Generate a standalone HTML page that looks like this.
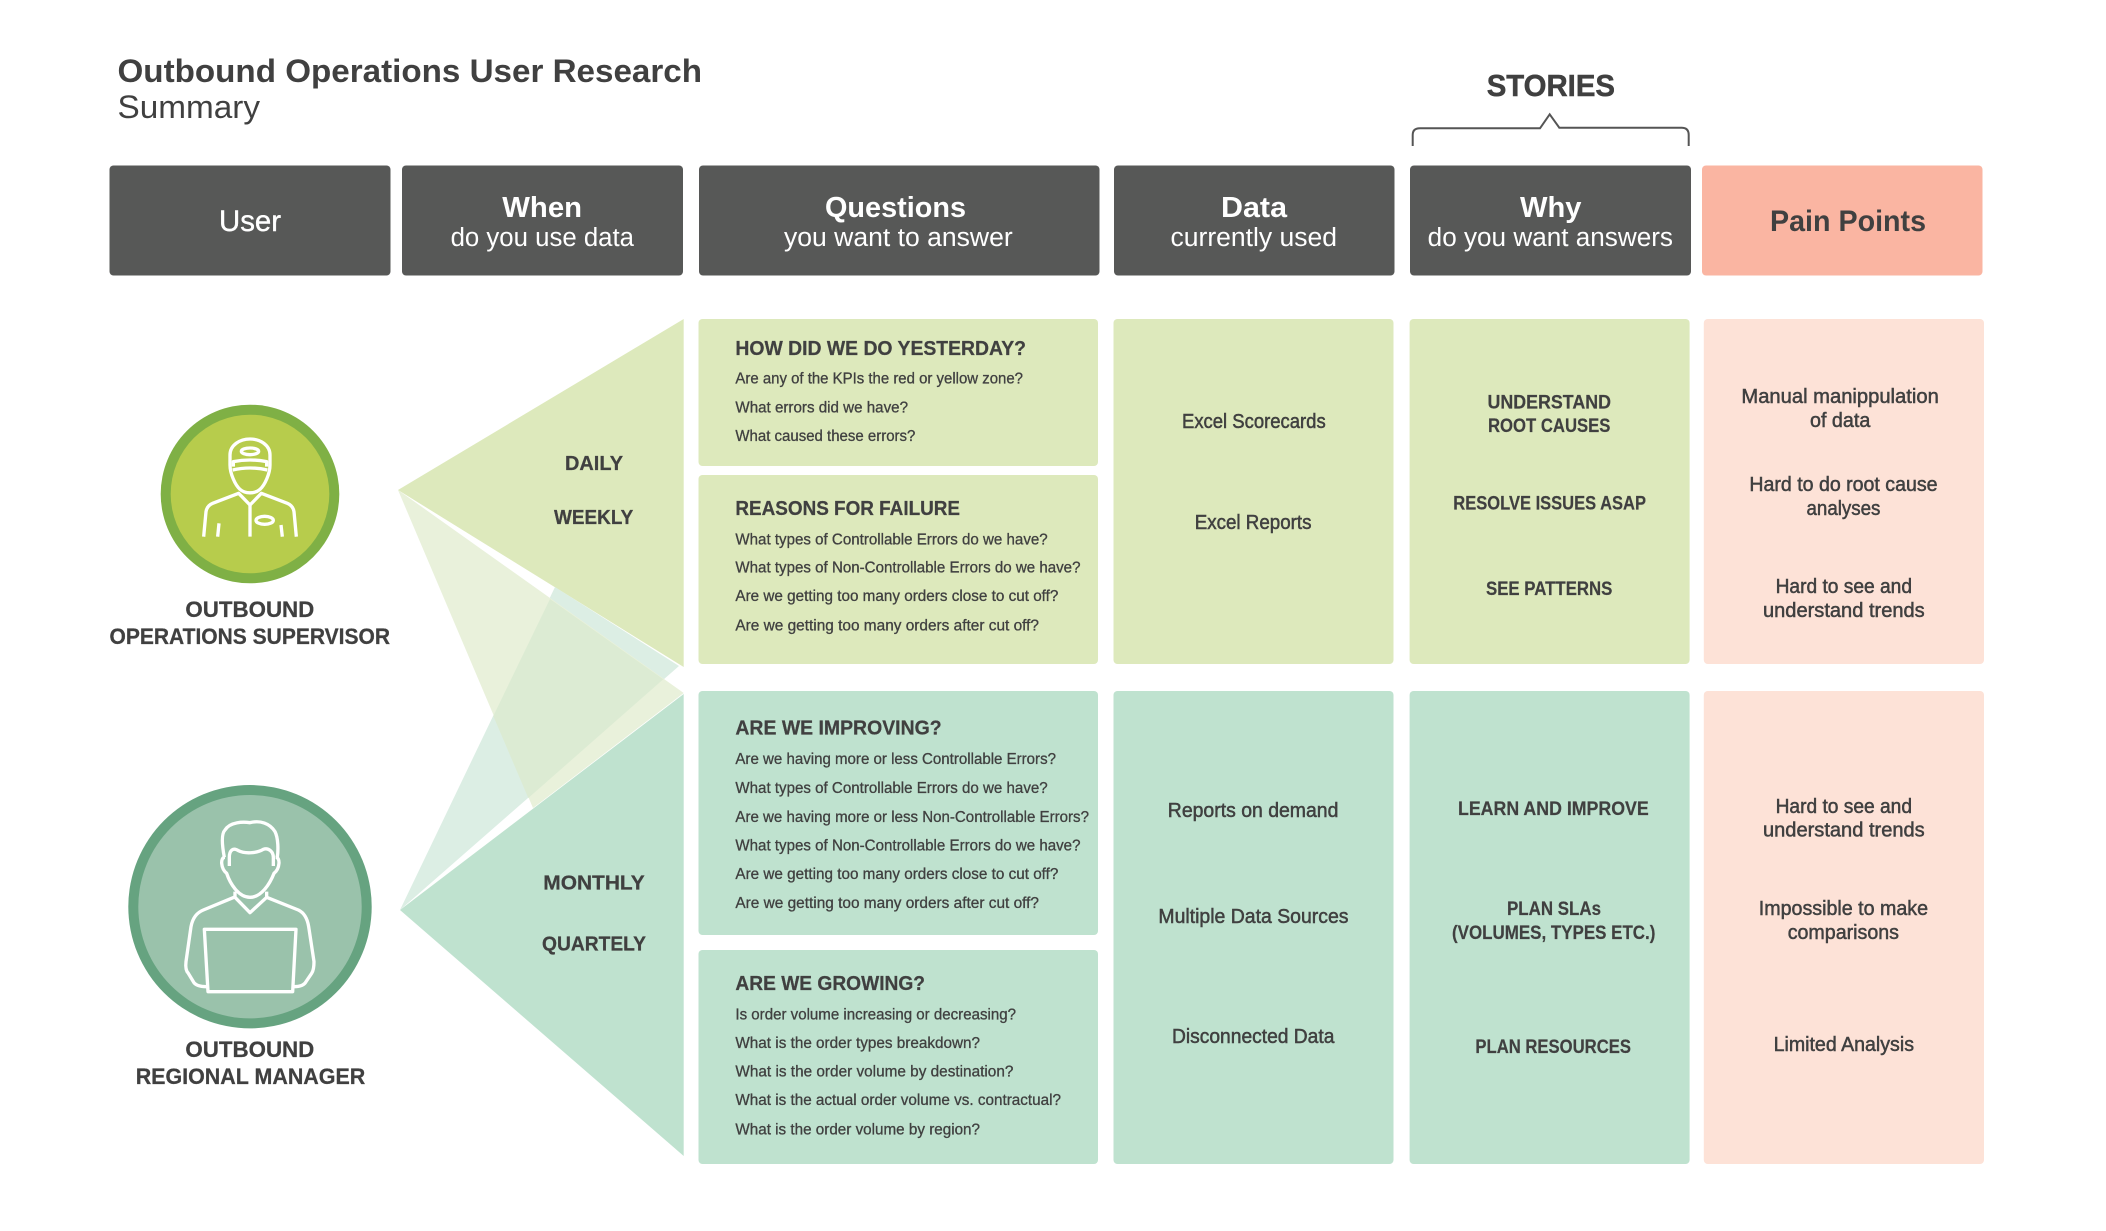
<!DOCTYPE html>
<html>
<head>
<meta charset="utf-8">
<style>
html,body{margin:0;padding:0;background:#fff;}
svg{display:block;}
text{font-family:"Liberation Sans",sans-serif;fill:#404040;}
.b{font-weight:700;}
.s{font-size:15.5px;stroke:#404040;stroke-width:.3px;}
.h{font-size:20px;font-weight:700;stroke:#404040;stroke-width:.25px;}
.m{font-size:20px;stroke:#404040;stroke-width:.5px;}
.u{font-size:19px;font-weight:700;stroke:#404040;stroke-width:.2px;}
.w{fill:#fff;}
.hb{font-size:29px;font-weight:700;fill:#fff;}
.hr{font-size:25.5px;fill:#fff;}
.ic{fill:none;stroke:#fff;stroke-width:10;stroke-linejoin:round;}
</style>
</head>
<body>
<svg width="2106" height="1231" viewBox="0 0 2106 1231" xmlns="http://www.w3.org/2000/svg">
<rect width="2106" height="1231" fill="#fff"/>

<!-- Title -->
<text class="b" x="117.5" y="82" font-size="32" textLength="584.5" lengthAdjust="spacingAndGlyphs">Outbound Operations User Research</text>
<text x="117.5" y="118" font-size="32" textLength="142.5" lengthAdjust="spacingAndGlyphs">Summary</text>

<!-- Stories -->
<text class="b" x="1486.7" y="96" font-size="31" textLength="128.3" lengthAdjust="spacingAndGlyphs" stroke="#404040" stroke-width=".5">STORIES</text>
<path d="M1412.7 146V135Q1412.7 128.3 1420 128.3H1540L1549.7 114.3L1559.3 127.7H1681.7Q1688.7 127.7 1688.7 135V146" fill="none" stroke="#555" stroke-width="2"/>

<!-- Header boxes -->
<rect x="109.5" y="165.5" width="281" height="110" rx="4" fill="#575857"/>
<rect x="402" y="165.5" width="281" height="110" rx="4" fill="#575857"/>
<rect x="699" y="165.5" width="400.5" height="110" rx="4" fill="#575857"/>
<rect x="1114" y="165.5" width="280.5" height="110" rx="4" fill="#575857"/>
<rect x="1410" y="165.5" width="281" height="110" rx="4" fill="#575857"/>
<rect x="1702" y="165.5" width="280.5" height="110" rx="4" fill="#fab5a2"/>

<text class="w" x="219" y="231" font-size="30" textLength="62" lengthAdjust="spacingAndGlyphs" stroke="#fff" stroke-width=".4">User</text>
<text class="hb" x="502.3" y="217" textLength="79.7" lengthAdjust="spacingAndGlyphs">When</text>
<text class="hr" x="450.6" y="246" textLength="183.4" lengthAdjust="spacingAndGlyphs">do you use data</text>
<text class="hb" x="825" y="217" textLength="141" lengthAdjust="spacingAndGlyphs">Questions</text>
<text class="hr" x="784" y="246" textLength="228.7" lengthAdjust="spacingAndGlyphs">you want to answer</text>
<text class="hb" x="1221" y="217" textLength="66" lengthAdjust="spacingAndGlyphs">Data</text>
<text class="hr" x="1170.5" y="246" textLength="166.5" lengthAdjust="spacingAndGlyphs">currently used</text>
<text class="hb" x="1520" y="217" textLength="61.5" lengthAdjust="spacingAndGlyphs">Why</text>
<text class="hr" x="1427.7" y="246" textLength="245.3" lengthAdjust="spacingAndGlyphs">do you want answers</text>
<text class="b" x="1770" y="231" font-size="30" textLength="156" lengthAdjust="spacingAndGlyphs">Pain Points</text>

<!-- Funnel triangles -->
<polygon points="398,490 683.7,319 683.7,667" fill="#dde9bc"/>
<polygon points="400,910 683.7,694 683.7,1156" fill="#bfe2cf"/>
<polygon points="400,910 555,587 679,666" fill="#dceee4"/>
<polygon points="398,490 683.7,693 533,808" fill="#e9f1db"/>
<polygon points="550,599 663.3,679.3 528.3,798 493.3,716" fill="#dcebd3"/>

<!-- Body cards -->
<g fill="#dde9bc">
<rect x="698.5" y="319" width="399.5" height="147" rx="4"/>
<rect x="698.5" y="475" width="399.5" height="189" rx="4"/>
<rect x="1113.5" y="319" width="280" height="345" rx="4"/>
<rect x="1409.6" y="319" width="280" height="345" rx="4"/>
</g>
<g fill="#bfe2cf">
<rect x="698.5" y="691" width="399.5" height="244" rx="4"/>
<rect x="698.5" y="950" width="399.5" height="214" rx="4"/>
<rect x="1113.5" y="691" width="280" height="473" rx="4"/>
<rect x="1409.6" y="691" width="280" height="473" rx="4"/>
</g>
<g fill="#fde2d7">
<rect x="1703.8" y="319" width="280.2" height="345" rx="4"/>
<rect x="1703.8" y="691" width="280.2" height="473" rx="4"/>
</g>

<!-- Supervisor -->
<circle cx="250" cy="494" r="89.3" fill="#7fb045"/>
<circle cx="250" cy="494" r="79.3" fill="#b7cc4c"/>
<g transform="translate(120 390) scale(.33333)" class="ic">
<path d="M330 225V195C330 165 360 147 390 147C420 147 450 165 450 195V225"/>
<path d="M340 230V215Q390 205 440 215V230M338 240Q390 228 442 240"/>
<path d="M330 225C330 250 345 285 360 298C375 312 405 312 420 298C435 285 450 250 450 225"/>
<ellipse cx="390" cy="184" rx="26" ry="10"/>
<path d="M251 440L258 365Q261 347 278 340L356 310L390 345L424 310L502 340Q519 347 522 365L529 440"/>
<path d="M390 345V440M297 400L293 440M483 405L487 440"/>
<ellipse cx="434" cy="391" rx="26" ry="12"/>
</g>
<text class="b" x="185.4" y="617" font-size="22" textLength="128.9" lengthAdjust="spacingAndGlyphs" stroke="#404040" stroke-width=".25">OUTBOUND</text>
<text class="b" x="109.5" y="644" font-size="22" textLength="280.5" lengthAdjust="spacingAndGlyphs" stroke="#404040" stroke-width=".25">OPERATIONS SUPERVISOR</text>

<!-- Manager -->
<circle cx="250" cy="906.7" r="121.7" fill="#66a380"/>
<circle cx="250" cy="906.7" r="111.7" fill="#9ac2ab"/>
<g transform="translate(110 770) scale(.33333)" class="ic">
<path d="M343 262C335 220 335 190 345 180C360 155 400 155 420 158C450 150 480 160 495 185C505 205 505 240 502 262"/>
<path d="M358 288V262C358 240 370 232 385 242C405 252 440 250 460 238C475 232 490 245 490 262V288"/>
<path d="M345 262C330 262 332 295 350 310C360 340 385 382 420 382C455 382 480 340 492 310C510 295 512 262 497 262"/>
<path d="M375 365V382L420 428L470 382V365"/>
<path d="M372 382L280 420Q250 432 243 470L228 575Q225 600 235 610L250 635Q258 650 290 650"/>
<path d="M470 382L565 420Q590 432 596 470L612 575Q612 600 605 610L588 635Q580 650 552 650"/>
<path d="M283 478H558L548 665H294Z"/>
</g>
<text class="b" x="185.4" y="1057" font-size="22" textLength="128.9" lengthAdjust="spacingAndGlyphs" stroke="#404040" stroke-width=".25">OUTBOUND</text>
<text class="b" x="135.7" y="1084" font-size="22" textLength="229.6" lengthAdjust="spacingAndGlyphs" stroke="#404040" stroke-width=".25">REGIONAL MANAGER</text>

<!-- When labels -->
<text class="h" x="565" y="470" textLength="58" lengthAdjust="spacingAndGlyphs">DAILY</text>
<text class="h" x="554" y="524" textLength="79.3" lengthAdjust="spacingAndGlyphs">WEEKLY</text>
<text class="h" x="543.3" y="889.7" textLength="101.4" lengthAdjust="spacingAndGlyphs">MONTHLY</text>
<text class="h" x="542" y="950.5" textLength="104" lengthAdjust="spacingAndGlyphs">QUARTELY</text>

<!-- Questions -->
<text class="h" x="735.4" y="355" textLength="290.6" lengthAdjust="spacingAndGlyphs">HOW DID WE DO YESTERDAY?</text>
<text class="s" x="735.4" y="383.5" textLength="287.6" lengthAdjust="spacingAndGlyphs">Are any of the KPIs the red or yellow zone?</text>
<text class="s" x="735.4" y="412.4" textLength="172.6" lengthAdjust="spacingAndGlyphs">What errors did we have?</text>
<text class="s" x="735.4" y="441" textLength="180" lengthAdjust="spacingAndGlyphs">What caused these errors?</text>

<text class="h" x="735.4" y="515" textLength="224.6" lengthAdjust="spacingAndGlyphs">REASONS FOR FAILURE</text>
<text class="s" x="735.4" y="544.5" textLength="312.3" lengthAdjust="spacingAndGlyphs">What types of Controllable Errors do we have?</text>
<text class="s" x="735.4" y="572.6" textLength="345.1" lengthAdjust="spacingAndGlyphs">What types of Non-Controllable Errors do we have?</text>
<text class="s" x="735.4" y="601" textLength="323" lengthAdjust="spacingAndGlyphs">Are we getting too many orders close to cut off?</text>
<text class="s" x="735.4" y="630.5" textLength="303.6" lengthAdjust="spacingAndGlyphs">Are we getting too many orders after cut off?</text>

<text class="h" x="735.4" y="734.6" textLength="206.2" lengthAdjust="spacingAndGlyphs">ARE WE IMPROVING?</text>
<text class="s" x="735.4" y="764" textLength="320.6" lengthAdjust="spacingAndGlyphs">Are we having more or less Controllable Errors?</text>
<text class="s" x="735.4" y="793" textLength="312.3" lengthAdjust="spacingAndGlyphs">What types of Controllable Errors do we have?</text>
<text class="s" x="735.4" y="822" textLength="353.6" lengthAdjust="spacingAndGlyphs">Are we having more or less Non-Controllable Errors?</text>
<text class="s" x="735.4" y="850.3" textLength="345.1" lengthAdjust="spacingAndGlyphs">What types of Non-Controllable Errors do we have?</text>
<text class="s" x="735.4" y="879" textLength="323" lengthAdjust="spacingAndGlyphs">Are we getting too many orders close to cut off?</text>
<text class="s" x="735.4" y="908" textLength="303.6" lengthAdjust="spacingAndGlyphs">Are we getting too many orders after cut off?</text>

<text class="h" x="735.4" y="990" textLength="189.6" lengthAdjust="spacingAndGlyphs">ARE WE GROWING?</text>
<text class="s" x="735.4" y="1019.5" textLength="280.6" lengthAdjust="spacingAndGlyphs">Is order volume increasing or decreasing?</text>
<text class="s" x="735.4" y="1048" textLength="244.6" lengthAdjust="spacingAndGlyphs">What is the order types breakdown?</text>
<text class="s" x="735.4" y="1076.3" textLength="278" lengthAdjust="spacingAndGlyphs">What is the order volume by destination?</text>
<text class="s" x="735.4" y="1105" textLength="325.6" lengthAdjust="spacingAndGlyphs">What is the actual order volume vs. contractual?</text>
<text class="s" x="735.4" y="1134.4" textLength="244.6" lengthAdjust="spacingAndGlyphs">What is the order volume by region?</text>

<!-- Data -->
<text class="m" x="1182" y="428" textLength="143.7" lengthAdjust="spacingAndGlyphs">Excel Scorecards</text>
<text class="m" x="1194.7" y="529" textLength="116.8" lengthAdjust="spacingAndGlyphs">Excel Reports</text>
<text class="m" x="1167.8" y="817" textLength="170.6" lengthAdjust="spacingAndGlyphs">Reports on demand</text>
<text class="m" x="1158.4" y="923.2" textLength="190.1" lengthAdjust="spacingAndGlyphs">Multiple Data Sources</text>
<text class="m" x="1172" y="1043" textLength="162.4" lengthAdjust="spacingAndGlyphs">Disconnected Data</text>

<!-- Why -->
<text class="u" x="1487.5" y="408.5" textLength="123.5" lengthAdjust="spacingAndGlyphs">UNDERSTAND</text>
<text class="u" x="1488" y="432.2" textLength="122.4" lengthAdjust="spacingAndGlyphs">ROOT CAUSES</text>
<text class="u" x="1453.3" y="509.3" textLength="192.7" lengthAdjust="spacingAndGlyphs">RESOLVE ISSUES ASAP</text>
<text class="u" x="1486" y="595" textLength="126.4" lengthAdjust="spacingAndGlyphs">SEE PATTERNS</text>
<text class="u" x="1458" y="814.9" textLength="190.7" lengthAdjust="spacingAndGlyphs">LEARN AND IMPROVE</text>
<text class="u" x="1507" y="915" textLength="94" lengthAdjust="spacingAndGlyphs">PLAN SLAs</text>
<text class="u" x="1452" y="939" textLength="203.4" lengthAdjust="spacingAndGlyphs">(VOLUMES, TYPES ETC.)</text>
<text class="u" x="1475.4" y="1053" textLength="155.6" lengthAdjust="spacingAndGlyphs">PLAN RESOURCES</text>

<!-- Pain points -->
<text class="m" x="1741.4" y="403" textLength="197.4" lengthAdjust="spacingAndGlyphs">Manual manippulation</text>
<text class="m" x="1810" y="427" textLength="60.3" lengthAdjust="spacingAndGlyphs">of data</text>
<text class="m" x="1749.4" y="491" textLength="188.1" lengthAdjust="spacingAndGlyphs">Hard to do root cause</text>
<text class="m" x="1806.5" y="515" textLength="73.9" lengthAdjust="spacingAndGlyphs">analyses</text>
<text class="m" x="1775.6" y="593" textLength="136.4" lengthAdjust="spacingAndGlyphs">Hard to see and</text>
<text class="m" x="1763" y="617" textLength="161.7" lengthAdjust="spacingAndGlyphs">understand trends</text>
<text class="m" x="1775.6" y="813" textLength="136.4" lengthAdjust="spacingAndGlyphs">Hard to see and</text>
<text class="m" x="1763" y="836.7" textLength="161.7" lengthAdjust="spacingAndGlyphs">understand trends</text>
<text class="m" x="1758.8" y="915" textLength="169.2" lengthAdjust="spacingAndGlyphs">Impossible to make</text>
<text class="m" x="1787.7" y="939" textLength="111.3" lengthAdjust="spacingAndGlyphs">comparisons</text>
<text class="m" x="1773.6" y="1051" textLength="140.4" lengthAdjust="spacingAndGlyphs">Limited Analysis</text>
</svg>
</body>
</html>
